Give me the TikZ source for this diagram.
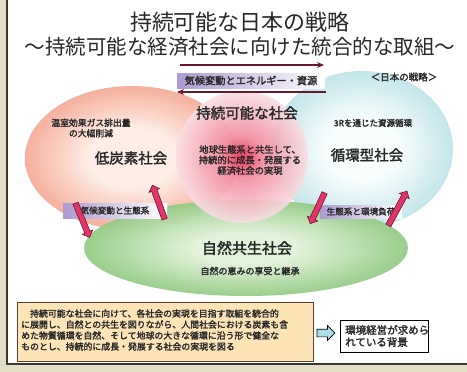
\documentclass[tikz,border=0pt]{standalone}
\usepackage{fontspec}
\setmainfont[AutoFakeBold=2]{Noto Sans CJK JP}
\usetikzlibrary{shapes.arrows,arrows.meta}
\definecolor{frameBeige}{RGB}{226,222,200}
\definecolor{frameDark}{RGB}{60,55,45}
\definecolor{lsIn}{RGB}{254,238,230}
\definecolor{lsOut}{RGB}{245,172,152}
\definecolor{cyIn}{RGB}{248,253,253}
\definecolor{cyOut}{RGB}{192,229,234}
\definecolor{grIn}{RGB}{226,242,218}
\definecolor{grOut}{RGB}{148,204,133}
\definecolor{rdIn}{RGB}{232,40,72}
\definecolor{rdMid}{RGB}{242,140,160}
\definecolor{rdOut}{RGB}{249,222,227}
\definecolor{lav}{RGB}{172,155,208}
\definecolor{maroon}{RGB}{105,25,45}
\definecolor{pinkArrow}{RGB}{228,52,105}
\definecolor{boxFill}{RGB}{252,228,182}
\definecolor{boxLine}{RGB}{85,65,45}
\definecolor{txt}{RGB}{40,40,40}
\definecolor{arrowCyan}{RGB}{170,225,230}
\pgfdeclareradialshading{redglow}{\pgfpoint{0bp}{0bp}}{color(0bp)=(rdIn); color(8bp)=(rdMid); color(25bp)=(rdOut); color(50bp)=(rdOut)}
\pgfdeclareradialshading{salmonglow}{\pgfpoint{0bp}{0bp}}{color(0bp)=(lsIn); color(10bp)=(lsIn); color(25bp)=(lsOut); color(50bp)=(lsOut)}
\pgfdeclareradialshading{cyanglow}{\pgfpoint{0bp}{0bp}}{color(0bp)=(cyIn); color(10bp)=(cyIn); color(25bp)=(cyOut); color(50bp)=(cyOut)}
\pgfdeclareradialshading{greenglow}{\pgfpoint{0bp}{0bp}}{color(0bp)=(grIn); color(8bp)=(grIn); color(25bp)=(grOut); color(50bp)=(grOut)}
\tikzset{
  fs/.style={font=\fontsize{#1}{#1}\selectfont},
  lbl/.style 2 args={text=txt, font=\fontsize{#1}{#2}\selectfont\bfseries, align=center, inner sep=0pt},
  head/.style={text=txt, font=\fontsize{#1}{#1}\selectfont\bfseries, inner sep=0pt},
  tagbox/.style={left color=lav, right color=white, draw=none, minimum height=15pt, inner sep=0pt, text=txt, font=\fontsize{#1}{#1}\selectfont\bfseries},
  fatarrow/.style={shape=single arrow, fill=pinkArrow, draw=maroon, line width=0.6pt, inner sep=2.5pt, single arrow head extend=2.8pt, single arrow head indent=0pt, minimum height=#1},
  toparrow/.style={draw=maroon, line width=2.6pt, -{Stealth[length=7pt,width=6pt,fill=pinkArrow!70!maroon]}},
}
\begin{document}
\begin{tikzpicture}[x=1pt,y=-1pt]
\useasboundingbox (0,0) rectangle (467,372);
\fill[white] (0,0) rectangle (467,372);
% frame
\fill[frameBeige] (0,0) rectangle (6,372);
\fill[frameBeige] (0,365) rectangle (467,372);
\draw[frameDark, line width=1.6pt] (7,0) -- (7,364) -- (467,364);
% circles
\path[shading=salmonglow, fill opacity=0.95] (132,158) ellipse [x radius=107, y radius=72];
\path[shading=cyanglow, fill opacity=0.95] (362,149) ellipse [x radius=91, y radius=78];
\path[shading=greenglow, fill opacity=0.95] (246,248) ellipse [x radius=162, y radius=48];
\path[shading=redglow, fill opacity=0.9] (242,157) circle [radius=66];
% titles
\node[fs=22, text=txt] (title) at (240,22) {持続可能な日本の戦略};
\node[fs=20.5, text=txt] (subtitle) at (240,47) {～持続可能な経済社会に向けた統合的な取組～};
\node[head=9.5] (jstrat) at (404,77) {＜日本の戦略＞};
% top arrows and label
\coordinate (ta1) at (180,65);
\coordinate (ta2) at (324,65);
\coordinate (tb1) at (326,92);
\coordinate (tb2) at (177,92);
\draw[toparrow] (ta1) -- (ta2);
\draw[toparrow] (tb1) -- (tb2);
\node[tagbox=10.2, minimum width=148pt] (tagtop) at (251,80.5) {気候変動とエネルギー・資源};
% texts
\node[lbl={8.8}{10.5}] (lowtxt) at (91,128) {温室効果ガス排出量\\の大幅削減};
\node[head=14.5] (lowc) at (131,158) {低炭素社会};
\node[head=14.5] (sust) at (247,113) {持続可能な社会};
\node[lbl={9.3}{10.5}] (susttxt) at (250,160) {地球生態系と共生して、\\持続的に成長・発展する\\経済社会の実現};
\node[lbl={8.5}{10}] (rtxt) at (373,123) {3Rを通じた資源循環};
\node[head=14.5] (circ) at (367,155) {循環型社会};
\node[head=15] (nat) at (247,248) {自然共生社会};
\node[lbl={9}{10}] (nattxt) at (250,271) {自然の恵みの享受と継承};
% connector labels
\node[tagbox=8.6, minimum width=104pt] (tagl) at (115,210.5) {気候変動と生態系};
\node[tagbox=8.6, minimum width=82pt, minimum height=13pt] (tagr) at (361,211.5) {生態系と環境負荷};
% fat arrows
\node[fatarrow=37pt, rotate=-67.6] (al1) at (82,219) {};
\node[fatarrow=36pt, rotate=110] (al2) at (159,203.5) {};
\node[fatarrow=34pt, rotate=-115] (ar1) at (318,207) {};
\node[fatarrow=39pt, rotate=61.4] (ar2) at (397,209.5) {};
% bottom box
\node[draw=boxLine, fill=boxFill, line width=1pt, minimum width=296pt, minimum height=59pt, inner sep=0pt] (bbox) at (165,331.5) {};
\node[text=txt, font=\fontsize{8.9}{11}\selectfont\bfseries, align=left, inner sep=0pt, anchor=west] (btxt) at (21,330) {　持続可能な社会に向けて、各社会の実現を目指す取組を統合的\\に展開し、自然との共生を図りながら、人間社会における炭素も含\\めた物質循環を自然、そして地球の大きな循環に沿う形で健全な\\ものとし、持続的に成長・発展する社会の実現を図る};
\node[shape=single arrow, fill=arrowCyan, draw=black, line width=0.7pt, inner sep=3.5pt, single arrow head extend=3.5pt, minimum height=18pt] (barrow) at (324,333) {};
\node[draw=black, fill=white, line width=1pt, minimum width=88pt, minimum height=32pt, inner sep=0pt] (rbox) at (384,336) {};
\node[text=txt, font=\fontsize{10.5}{12}\selectfont\bfseries, align=left, inner sep=0pt, anchor=west] (rboxtxt) at (345,336) {環境経営が求めら\\れている背景};
\end{tikzpicture}
\end{document}
